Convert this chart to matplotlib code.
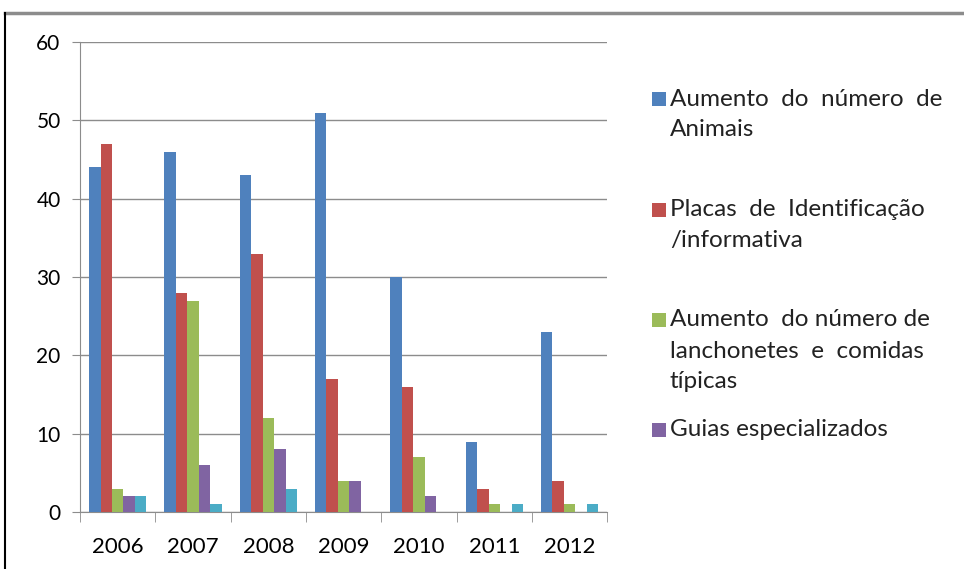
import matplotlib.pyplot as plt
import numpy as np
from matplotlib.patches import Rectangle
from matplotlib.lines import Line2D

plt.rcParams['font.family'] = ['Lato', 'DejaVu Sans']

# Data
years = ['2006', '2007', '2008', '2009', '2010', '2011', '2012']
animais = [44, 46, 43, 51, 30, 9, 23]
placas = [47, 28, 33, 17, 16, 3, 4]
lanchonetes = [3, 27, 12, 4, 7, 1, 1]
guias = [2, 6, 8, 4, 2, 0, 0]
outros = [2, 1, 3, 0, 0, 1, 1]

series = [animais, placas, lanchonetes, guias, outros]
colors = ['#4f81bd', '#c0504d', '#9bbb59', '#8064a2', '#4bacc6']
legend_labels = ['Aumento  do  número  de\nAnimais',
                 'Placas  de  Identificação\n/informativa',
                 'Aumento  do número de\nlanchonetes  e  comidas\ntípicas',
                 'Guias especializados']

fig = plt.figure(figsize=(9.64, 5.69), dpi=100)
ax = fig.add_axes([0.083, 0.100, 0.547, 0.826])

x = np.arange(len(years))
w = 0.152
for i, (vals, c) in enumerate(zip(series, colors)):
    ax.bar(x + (i - 2) * w, vals, w, color=c, zorder=3)

ax.set_xlim(-0.5, len(years) - 0.5)
ax.set_ylim(0, 60)
ax.set_yticks(range(0, 61, 10))
ax.yaxis.grid(True, color='#8c8c8c', linewidth=1.0, zorder=0)

# category ticks sit on the boundaries between groups
ax.set_xticks(x)
ax.set_xticklabels(years, fontsize=16)
ax.tick_params(axis='x', length=0, pad=18)
ax.set_xticks(np.arange(-0.5, len(years)), minor=True)
ax.tick_params(axis='x', which='minor', length=7, color='#8c8c8c')
ax.tick_params(axis='y', labelsize=15, length=6, color='#8c8c8c', pad=8)

for s in ['top', 'right']:
    ax.spines[s].set_visible(False)
for s in ['left', 'bottom']:
    ax.spines[s].set_color('#8c8c8c')

# Legend (drawn manually, text lines like the original)
fig_h = 569.0
fig_w = 964.0
entry_tops = [99, 210, 320, 430]
for lab, c, ytop in zip(legend_labels, colors, entry_tops):
    fig.patches.append(Rectangle((652 / fig_w, 1 - (ytop + 7) / fig_h), 14 / fig_w, 14 / fig_h,
                                 transform=fig.transFigure, facecolor=c, edgecolor='none'))
    for j, line in enumerate(lab.split('\n')):
        fig.text(670 / fig_w, 1 - (ytop + 31 * j) / fig_h, line, fontsize=17.5,
                 va='center', ha='left', color='#222222')

# Outer frame
fig.add_artist(Line2D([5 / fig_w, 1], [1 - 13 / fig_h] * 2, color='#8c8c8c', lw=2.5,
                      transform=fig.transFigure))
fig.add_artist(Line2D([5 / fig_w] * 2, [0, 1 - 13 / fig_h], color='black', lw=1.5,
                      transform=fig.transFigure))

fig.savefig('out.png', dpi=100)
